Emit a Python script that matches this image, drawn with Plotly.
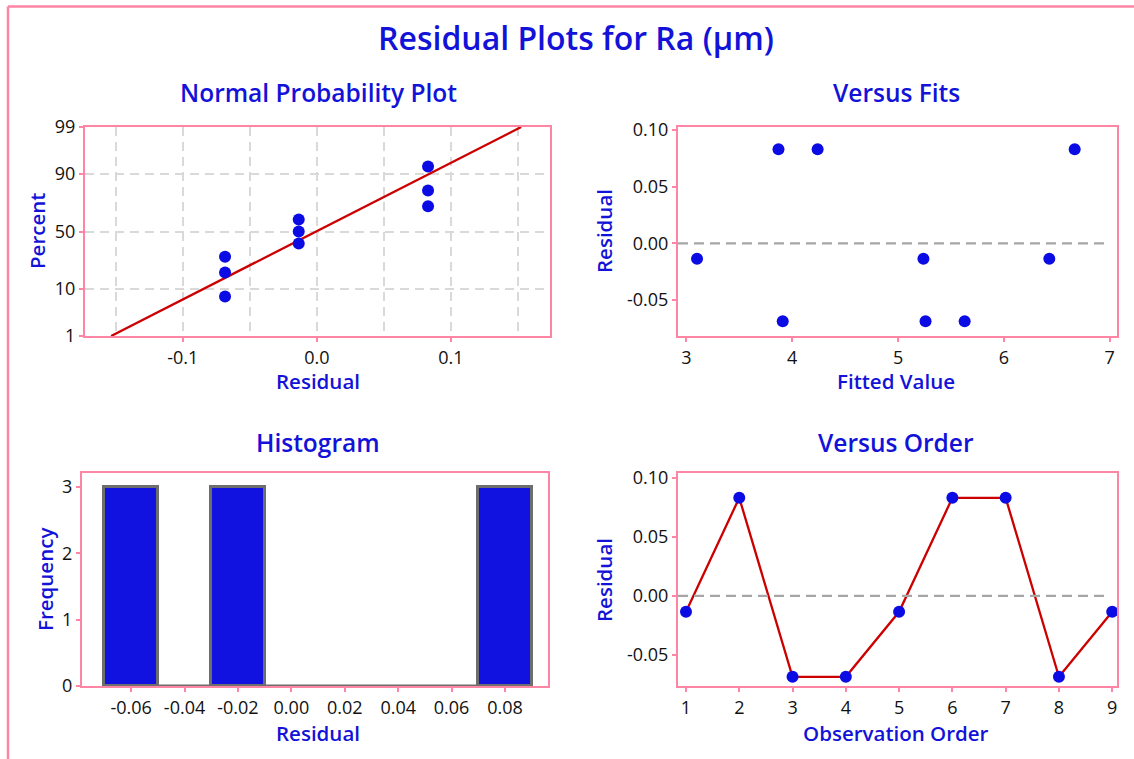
import plotly.graph_objects as go
from statistics import NormalDist

# ---------------- data ----------------
obs_order = [1, 2, 3, 4, 5, 6, 7, 8, 9]
residuals = [-0.0135, 0.0830, -0.0685, -0.0685, -0.0135, 0.0830, 0.0830, -0.0685, -0.0135]
fitted = [3.10, 3.87, 3.91, 5.26, 5.24, 4.24, 6.67, 5.63, 6.43]

npp_resid = [-0.0685, -0.0685, -0.0685, -0.0135, -0.0135, -0.0135, 0.0830, 0.0830, 0.0830]
npp_percent = [7.4, 18.1, 28.7, 39.4, 50.0, 60.6, 71.3, 81.9, 92.6]
fit_line_resid = [-0.1535, 0.1525]
fit_line_percent = [1, 99]

hist_start, hist_end, hist_size = -0.07, 0.09, 0.02

pct_ticks = [1, 10, 50, 90, 99]
npp_xticks = [-0.1, 0.0, 0.1]
npp_xgrid = [-0.15, -0.05, 0.05, 0.15]
fits_xticks = [3, 4, 5, 6, 7]
resid_yticks = [-0.05, 0.0, 0.05, 0.10]
hist_xticks = [-0.06, -0.04, -0.02, 0.00, 0.02, 0.04, 0.06, 0.08]
hist_yticks = [0, 1, 2, 3]

# ---------------- style ----------------
W, H = 1134, 759
PINK = "#FF85A5"
BLUE = "#1212D8"
MARK = "#0B0BE3"
RED = "#CC0000"
FONT = "Open Sans"

nd = NormalDist()
z = lambda p: nd.inv_cdf(p / 100.0)

def px(x):
    return x / W

def py(y):
    return 1 - y / H

fig = go.Figure()

# Normal probability plot
fig.add_trace(go.Scatter(x=fit_line_resid, y=[z(p) for p in fit_line_percent], mode="lines",
                         line=dict(color=RED, width=2.3), xaxis="x", yaxis="y", showlegend=False))
fig.add_trace(go.Scatter(x=npp_resid, y=[z(p) for p in npp_percent], mode="markers",
                         marker=dict(color=MARK, size=12), xaxis="x", yaxis="y", showlegend=False))

# Versus fits
fig.add_trace(go.Scatter(x=fitted, y=residuals, mode="markers",
                         marker=dict(color=MARK, size=12), xaxis="x2", yaxis="y2", showlegend=False))

# Histogram (baseline for empty bins, then bars)
fig.add_trace(go.Scatter(x=[hist_start, hist_end], y=[0, 0], mode="lines",
                         line=dict(color="#6E6E6E", width=3), xaxis="x3", yaxis="y3",
                         showlegend=False, cliponaxis=False))
fig.add_trace(go.Histogram(x=residuals, xbins=dict(start=hist_start, end=hist_end, size=hist_size),
                           marker=dict(color="#1212E0", line=dict(color="#6E6E6E", width=3)),
                           xaxis="x3", yaxis="y3", showlegend=False))

# Versus order
fig.add_trace(go.Scatter(x=obs_order, y=residuals, mode="lines+markers",
                         line=dict(color=RED, width=2.3), marker=dict(color=MARK, size=12),
                         xaxis="x4", yaxis="y4", showlegend=False))

tickfont = dict(family=FONT, size=18, color="#111111")
common = dict(showline=True, linecolor=PINK, linewidth=2, mirror=True, ticks="outside",
              tickcolor=PINK, ticklen=4, tickwidth=1.5, tickfont=tickfont, zeroline=False,
              showgrid=False, automargin=False)

dom_x_left = [px(85), px(550)]
dom_x_right = [px(678), px(1117)]
dom_y_top = [py(336), py(127)]
dom_y_bot = [py(686), py(473)]

GRID = dict(gridcolor="#D9D9D9", griddash="9px,6px", gridwidth=1.5)

fig.update_layout(
    width=W, height=H, margin=dict(l=0, r=0, t=0, b=0, pad=0, autoexpand=False),
    paper_bgcolor="white", plot_bgcolor="white",
    xaxis=dict(common, domain=dom_x_left, range=[-0.173, 0.174], tickvals=npp_xticks,
               ticktext=[f"{v:.1f}" for v in npp_xticks], anchor="y", showgrid=True, **GRID,
               minor=dict(tickvals=npp_xgrid, showgrid=True, ticks="", **GRID)),
    yaxis=dict(common, domain=dom_y_top, range=[z(1), z(99)], tickvals=[z(p) for p in pct_ticks],
               ticktext=[str(p) for p in pct_ticks], anchor="x", showgrid=True, **GRID),
    xaxis2=dict(common, domain=dom_x_right, range=[2.92, 7.07], tickvals=fits_xticks, anchor="y2"),
    yaxis2=dict(common, domain=dom_y_top, range=[-0.0816, 0.1026], tickvals=resid_yticks,
                ticktext=[f"{v:.2f}" for v in resid_yticks], anchor="x2"),
    xaxis3=dict(common, domain=[px(82), px(548)], range=[-0.0784, 0.0961], tickvals=hist_xticks,
                ticktext=[f"{v:.2f}" for v in hist_xticks], anchor="y3"),
    yaxis3=dict(common, domain=dom_y_bot, range=[0, 3.21], tickvals=hist_yticks, anchor="x3"),
    xaxis4=dict(common, domain=dom_x_right, range=[0.85, 9.09], tickvals=obs_order, anchor="y4"),
    yaxis4=dict(common, domain=dom_y_bot, range=[-0.0763, 0.104], tickvals=resid_yticks,
                ticktext=[f"{v:.2f}" for v in resid_yticks], anchor="x4"),
    bargap=0,
)

# zero reference lines
for xr, yr in (("x2", "y2"), ("x4", "y4")):
    fig.add_shape(type="line", xref=f"{xr} domain", yref=yr, x0=0, x1=0.98, y0=0, y1=0,
                  line=dict(color="#A6A6A6", width=2.2, dash="10px,6px"))

# outer border (top and left)
fig.add_shape(type="line", xref="paper", yref="paper", x0=px(8), x1=1, y0=py(6.5), y1=py(6.5),
              line=dict(color=PINK, width=2.5))
fig.add_shape(type="line", xref="paper", yref="paper", x0=px(8), x1=px(8), y0=0, y1=py(6.5),
              line=dict(color=PINK, width=2.5))

def ann(text, x, y, size, angle=0):
    fig.add_annotation(text=text, x=px(x), y=py(y), xref="paper", yref="paper",
                       showarrow=False, textangle=angle, xanchor="center", yanchor="middle",
                       font=dict(family=FONT, size=size, color=BLUE, weight=600))

ann("Residual Plots for Ra (µm)", 576, 38, 32)
ann("Normal Probability Plot", 318, 92, 24.5)
ann("Versus Fits", 896, 92, 24.5)
ann("Histogram", 318, 442, 24.5)
ann("Versus Order", 896, 442, 24.5)
ann("Residual", 318, 381, 20.5)
ann("Fitted Value", 896, 381, 20.5)
ann("Residual", 318, 733, 20.5)
ann("Observation Order", 896, 733, 20.5)
ann("Percent", 37, 231, 20.5, -90)
ann("Residual", 604, 231, 20.5, -90)
ann("Frequency", 45, 580, 20.5, -90)
ann("Residual", 604, 580, 20.5, -90)

fig.write_html("out.html", config={"displayModeBar": False},
               post_script="document.body.style.margin='0';document.body.style.overflow='hidden';")
